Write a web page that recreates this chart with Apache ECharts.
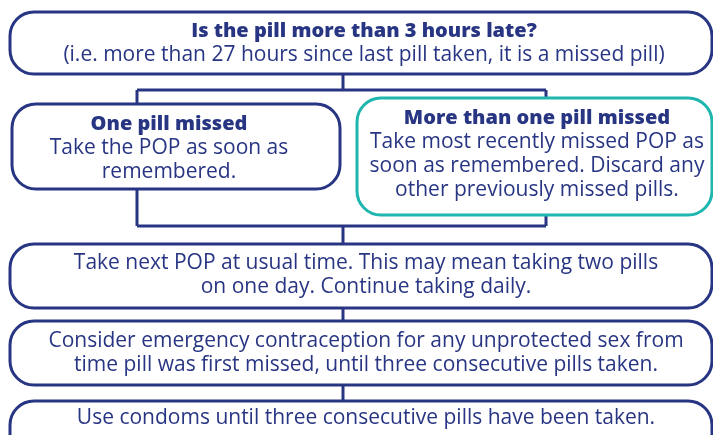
<!DOCTYPE html>
<html>
<head>
<meta charset="utf-8">
<script src="https://cdn.jsdelivr.net/npm/echarts@6/dist/echarts.min.js"></script>
<style>
html,body{margin:0;padding:0;background:#fff;}
#chart{width:713px;height:435px;}
</style>
</head>
<body>
<div id="chart"></div>
<script>
// ---- content (text of each node) ----
var nodeIds = ['question', 'one', 'more', 'next', 'emergency', 'condoms'];
var nodeTitles = ['Is the pill more than 3 hours late?', 'One pill missed', 'More than one pill missed', '', '', ''];
var nodeLines = [
  ['(i.e. more than 27 hours since last pill taken, it is a missed pill)'],
  ['Take the POP as soon as', 'remembered.'],
  ['Take most recently missed POP as', 'soon as remembered. Discard any', 'other previously missed pills.'],
  ['Take next POP at usual time. This may mean taking two pills', 'on one day. Continue taking daily.'],
  ['Consider emergency contraception for any unprotected sex from', 'time pill was first missed, until three consecutive pills taken.'],
  ['Use condoms until three consecutive pills have been taken.']
];
var nodeHighlight = [false, false, true, false, false, false];

// ---- layout ----
var NAVY = '#283583', TEAL = '#1fb6af';
var FONT = '"Open Sans", "Noto Sans", sans-serif';
var layout = {
  question:  {x: 10,  y: 12,  w: 702, h: 62,  tx: 364, ty: 31},
  one:       {x: 12,  y: 104, w: 328, h: 85,  tx: 169, ty: 124},
  more:      {x: 357, y: 98,  w: 355, h: 117, tx: 537, ty: 118},
  next:      {x: 10,  y: 244, w: 702, h: 64,  tx: 366, ty: 263},
  emergency: {x: 10,  y: 321, w: 702, h: 64,  tx: 366, ty: 341},
  condoms:   {x: 10,  y: 401, w: 702, h: 64,  tx: 366, ty: 418}
};
var connectors = [
  [[343, 74], [343, 90]],
  [[137, 90], [546, 90]],
  [[137, 90], [137, 226]],
  [[546, 90], [546, 226]],
  [[137, 226], [546, 226]],
  [[343, 226], [343, 244]],
  [[343, 308], [343, 321]],
  [[343, 385], [343, 401]]
];
var LH = 24;

var elements = [];
connectors.forEach(function (c) {
  elements.push({
    type: 'line', z: 1,
    shape: {x1: c[0][0], y1: c[0][1], x2: c[1][0], y2: c[1][1]},
    style: {stroke: NAVY, lineWidth: 3}
  });
});
nodeIds.forEach(function (id, i) {
  var L = layout[id];
  elements.push({
    type: 'rect', z: 2,
    shape: {x: L.x, y: L.y, width: L.w, height: L.h, r: 24},
    style: {fill: '#fff', stroke: nodeHighlight[i] ? TEAL : NAVY, lineWidth: 3}
  });
  var y = L.ty;
  if (nodeTitles[i]) {
    elements.push({
      type: 'text', z: 3, x: L.tx, y: y,
      style: {text: nodeTitles[i], fill: NAVY, font: '800 20px ' + FONT, align: 'center', verticalAlign: 'middle'}
    });
    y += LH;
  }
  nodeLines[i].forEach(function (t) {
    elements.push({
      type: 'text', z: 3, x: L.tx, y: y,
      style: {text: t, fill: NAVY, font: '400 21px ' + FONT, align: 'center', verticalAlign: 'middle'}
    });
    y += LH;
  });
});

var chart = echarts.init(document.getElementById('chart'), null, {renderer: 'canvas'});
chart.setOption({
  animation: false,
  backgroundColor: '#fff',
  graphic: {elements: elements}
});
</script>
</body>
</html>
